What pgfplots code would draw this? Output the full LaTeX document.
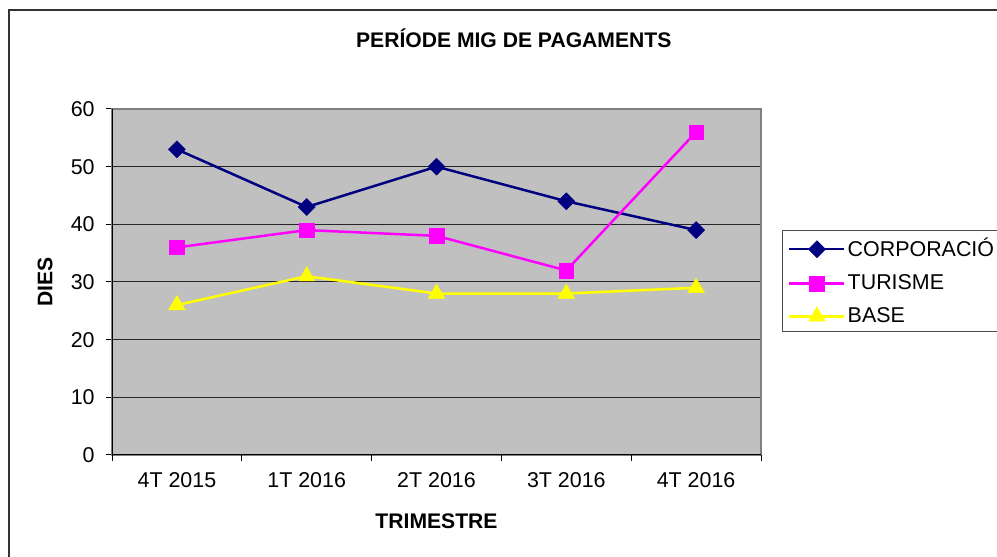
\documentclass[border=0pt]{standalone}
\usepackage{pgfplots}
\pgfplotsset{compat=1.18}
\usepackage{fontspec}
\setmainfont{Liberation Sans}
\definecolor{navyc}{RGB}{0,0,128}
\definecolor{magc}{RGB}{255,0,255}
\definecolor{yelc}{RGB}{255,255,0}
\definecolor{plotbg}{RGB}{192,192,192}
\definecolor{framegray}{RGB}{128,128,128}
\begin{document}
\fontsize{21.5}{25}\selectfont
\begin{tikzpicture}[x=1bp,y=1bp]
\begin{scope}
\clip (0,0) rectangle (997,557);
\fill[white] (0,0) rectangle (997,557);
\draw[line width=1.5bp, black!80] (9,-20) -- (9,547) -- (1020,547);
\begin{axis}[
  at={(112bp,102bp)}, anchor=south west,
  scale only axis, width=649bp, height=346bp,
  xmin=-0.5, xmax=4.5, ymin=0, ymax=60,
  ytick={0,10,...,60},
  ymajorgrids, grid style={black!85, line width=1bp},
  xtick={0,1,2,3,4},
  xticklabels={4T 2015,1T 2016,2T 2016,3T 2016,4T 2016},
  xtick pos=bottom, ytick pos=left,
  xtick style={draw=none},
  extra x ticks={-0.5,0.5,1.5,2.5,3.5,4.5},
  extra x tick labels={},
  extra x tick style={xtick style={draw=black, line width=1bp}, grid=none},
  ytick style={draw=black, line width=1bp},
  tick align=outside, major tick length=6bp,
  axis background/.style={fill=plotbg},
  axis line style={framegray, line width=2bp},
  ticklabel style={font=\fontsize{21.5}{25}\selectfont},
  /pgf/number format/assume math mode=true,
  yticklabel style={xshift=-4bp},
  xticklabel style={yshift=-4bp},
  title={\bfseries PERÍODE MIG DE PAGAMENTS},
  title style={at={(axis description cs:0.619,1.187)}, anchor=center, font=\fontsize{21.2}{25}\selectfont},
  xlabel={\bfseries TRIMESTRE},
  xlabel style={at={(axis description cs:0.5,-0.1908)}, anchor=center, font=\fontsize{21.2}{25}\selectfont},
  ylabel={\bfseries DIES},
  ylabel style={at={(axis description cs:-0.1032,0.5)}, anchor=center, font=\fontsize{21.2}{25}\selectfont},
  legend style={draw=none, fill=none, at={(axis description cs:1.0324,0.647)}, anchor=north west,
    font=\fontsize{21.5}{25}\selectfont, row sep=10.5bp, inner xsep=6bp, inner ysep=5bp},
  legend cell align=left,
  legend image code/.code={\draw[mark repeat=2,mark phase=2] plot coordinates {(0bp,0bp) (27.5bp,0bp) (55bp,0bp)};},
]
\addplot[navyc, line width=2.5bp, mark=square*, mark size=6bp, mark options={solid, rotate=45, line width=0.5bp, fill=navyc}] coordinates {(0,53) (1,43) (2,50) (3,44) (4,39)};
\addlegendentry{CORPORACIÓ}
\addplot[magc, line width=2.5bp, mark=square*, mark size=7.3bp, mark options={solid, line width=0.5bp, fill=magc}] coordinates {(0,36) (1,39) (2,38) (3,32) (4,56)};
\addlegendentry{TURISME}
\addplot[yelc, line width=2.5bp, mark=triangle*, mark size=9.5bp, mark options={solid, line width=0.5bp, fill=yelc}] coordinates {(0,26) (1,31) (2,28) (3,28) (4,29)};
\addlegendentry{BASE}
\draw[black, line width=2bp] (axis cs:-0.5,60) -- (axis cs:-0.5,0) -- (axis cs:4.5,0);
\end{axis}
\draw[black!70, line width=1bp] (1020,326) -- (782,326) -- (782,225) -- (1020,225);
\end{scope}
\pgfresetboundingbox
\useasboundingbox (0,0) rectangle (997,557);
\end{tikzpicture}
\end{document}
